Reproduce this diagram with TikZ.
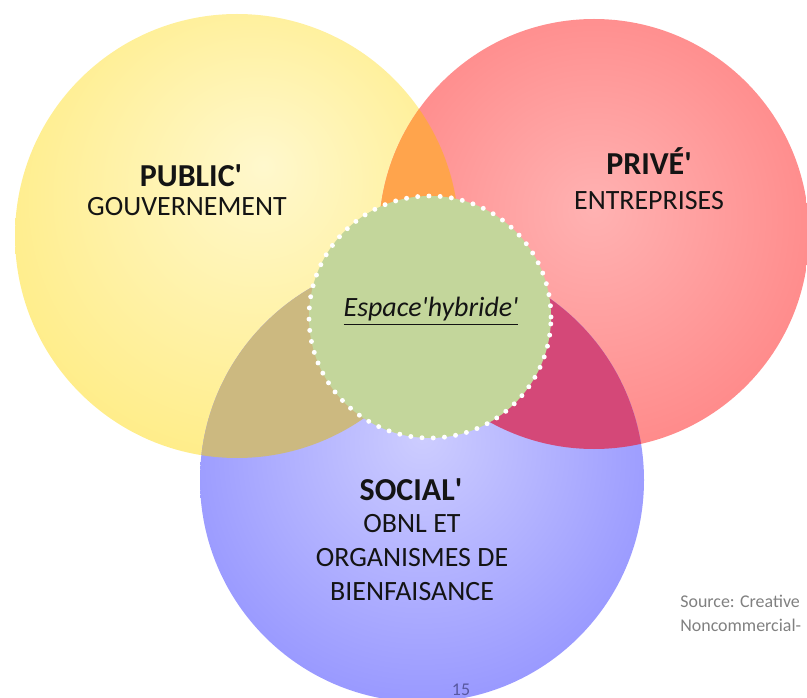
\documentclass[tikz,border=0pt]{standalone}
\usepackage{fontspec}
\setmainfont{Carlito}
\usetikzlibrary{positioning}
\definecolor{sun}{RGB}{255,229,88}
\definecolor{sunlight}{RGB}{255,248,205}
\definecolor{coral}{RGB}{255,104,104}
\definecolor{corallight}{RGB}{255,178,178}
\definecolor{iris}{RGB}{110,110,255}
\definecolor{irislight}{RGB}{205,205,255}
\definecolor{sage}{RGB}{195,214,155}
\definecolor{tangerine}{RGB}{255,164,76}
\definecolor{khaki}{RGB}{204,185,128}
\definecolor{crimson}{RGB}{212,72,120}
\definecolor{ink}{RGB}{20,20,20}
\definecolor{slate}{RGB}{128,128,128}
\definecolor{pageno}{RGB}{88,88,160}
% soft balls, light spot a little off centre
\pgfdeclareradialshading{sunball}{\pgfpoint{3bp}{8bp}}{color(0bp)=(sunlight); color(50bp)=(sun)}
\pgfdeclareradialshading{coralball}{\pgfpoint{0bp}{3bp}}{color(0bp)=(corallight); color(50bp)=(coral)}
\pgfdeclareradialshading{irisball}{\pgfpoint{0bp}{5bp}}{color(0bp)=(irislight); color(50bp)=(iris)}
\newcommand{\apos}{\textquotesingle}
\tikzset{
  sector title/.style={font=\fontsize{18.2}{21}\selectfont\bfseries,text=ink,anchor=base,inner sep=0pt},
  sector text/.style={font=\fontsize{15.9}{19}\selectfont,text=ink,anchor=base,inner sep=0pt},
  hybrid/.style={font=\fontsize{15.9}{19}\selectfont\itshape,text=ink,anchor=base,inner sep=0pt},
  note/.style={font=\fontsize{10.2}{13}\selectfont,text=#1,inner sep=0pt},
  note/.default=slate,
  dotted rim/.style={draw=white,line width=2.8pt,dash pattern=on 0pt off 6.4pt,line cap=round},
}

\begin{document}
\begin{tikzpicture}[x=0.02cm,y=0.02cm]
  \useasboundingbox (0,0) rectangle (807,697);
  \coordinate (pub) at (237,461);
  \coordinate (priv) at (594,463);
  \coordinate (soc) at (422,217);
  \coordinate (hyb) at (430,380);
  % the three sectors
  \shade[shading=sunball] (pub) circle (222);
  \shade[shading=coralball] (priv) circle (215);
  \shade[shading=irisball] (soc) circle (222);
  % overlaps
  \begin{scope}
    \clip (pub) circle (222);
    \fill[tangerine] (priv) circle (215);
    \fill[khaki] (soc) circle (222);
  \end{scope}
  \begin{scope}
    \clip (priv) circle (215);
    \fill[crimson] (soc) circle (222);
  \end{scope}
  % hybrid space in the middle
  \fill[sage] (hyb) circle (121);
  \path[dotted rim] (hyb) circle (121);

  \node[sector title] (pubtitle) at (191,510) {PUBLIC\apos};
  \node[sector text] (pubtext) at (187,481) {GOUVERNEMENT};
  \node[sector title] (privtitle) at (649,522) {PRIVÉ\apos};
  \node[sector text] (privtext) at (649,487) {ENTREPRISES};
  \node[sector title] (soctitle) at (411,197) {SOCIAL\apos};
  \foreach \txt [count=\k from 0] in {OBNL ET,ORGANISMES DE,BIENFAISANCE}
    \node[sector text] (soctext\k) at (412,165-\k*34) {\txt};
  \node[hybrid] (hybtext) at (431,380) {\underline{Espace\apos hybride\apos}};

  \node[note,anchor=base west] (source) at (680,90) {Source: Creative};
  \node[note,anchor=base west] (licence) at (680,66) {Noncommercial-};
  \node[note=pageno,anchor=base] (page) at (461,2) {15};
\end{tikzpicture}
\end{document}
